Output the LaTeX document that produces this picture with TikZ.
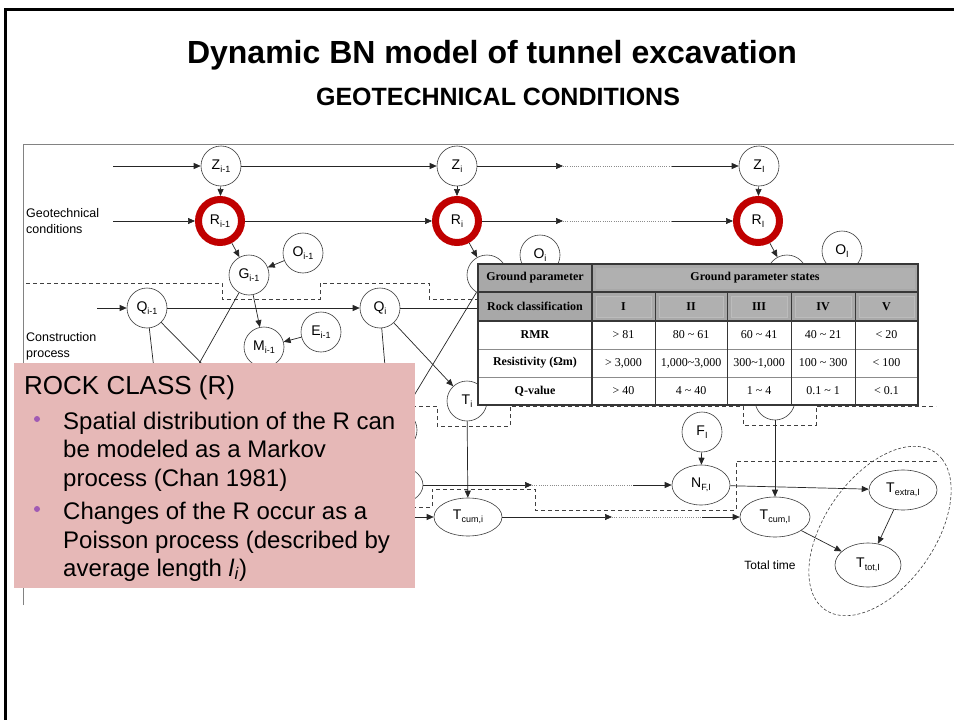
\documentclass[tikz,border=0pt]{standalone}
\usepackage{fontspec}
\setmainfont{Liberation Sans}
\newfontfamily\tmsf{Liberation Serif}
\usetikzlibrary{arrows.meta,shapes.geometric,calc}
\definecolor{pinkbg}{RGB}{230,184,183}
\definecolor{ringred}{RGB}{192,0,0}
\definecolor{bulletpurple}{RGB}{160,90,180}
\definecolor{tabgray}{RGB}{168,168,168}
\definecolor{tabinset}{RGB}{176,176,176}
\definecolor{tabline}{RGB}{55,55,55}
\definecolor{figgray}{RGB}{130,130,130}
\definecolor{nodeline}{RGB}{60,60,60}
\newcommand{\sbs}[1]{\raisebox{-3.5pt}{\fontsize{9}{9}\selectfont #1}}
\begin{document}
\begin{tikzpicture}[x=1pt,y=-1pt,
  >={Triangle[length=7pt,width=6pt]},
  bn/.style={circle,draw=nodeline,line width=0.6pt,minimum size=40pt,inner sep=0pt,fill=white,font=\fontsize{14}{14}\selectfont},
  bne/.style={ellipse,draw=nodeline,line width=0.6pt,inner sep=0pt,fill=white,font=\fontsize{14}{14}\selectfont},
  ring/.style={circle,draw=ringred,line width=7pt,minimum size=43pt,inner sep=0pt,outer sep=3.5pt},
  conn/.style={line width=0.7pt,draw=black!85},
  dots/.style={line width=0.6pt,draw=black!45,dash pattern=on 1pt off 1.2pt},
  bound/.style={line width=0.6pt,draw=black!75,dash pattern=on 4pt off 3pt},
  ebound/.style={line width=0.6pt,draw=black!75,dash pattern=on 3pt off 2pt},
  lbl/.style={anchor=west,inner sep=0pt,align=left,font=\fontsize{12.5}{16}\selectfont},
  tabh/.style={font=\tmsf\bfseries\fontsize{12}{12}\selectfont,inner sep=0pt},
  tabd/.style={font=\tmsf\fontsize{12}{12}\selectfont,inner sep=0pt},
  pinktxt/.style={anchor=base west,inner sep=0pt,font=\fontsize{24}{24}\selectfont},
  bulletdot/.style={circle,fill=bulletpurple,minimum size=6pt,inner sep=0pt}
]
\useasboundingbox (0,0) rectangle (954,720);
\fill[white] (0,0) rectangle (954,720);

% slide frame
\draw[line width=3pt] (5.5,720) -- (5.5,9) -- (954,9);

% titles
\node[font=\fontsize{32}{32}\selectfont\bfseries] (title) at (492,55) {Dynamic BN model of tunnel excavation};
\node[font=\fontsize{25}{25}\selectfont\bfseries] (subtitle) at (498,97) {GEOTECHNICAL CONDITIONS};

% figure frame
\draw[figgray,line width=0.8pt] (23,605) -- (23,144) -- (954,144);

% side labels
\node[lbl] (lgeo) at (26,221) {Geotechnical\\conditions};
\node[lbl] (lcon) at (26,346) {Construction\\process};

% dashed region boundaries
\draw[bound] (26,283) -- (222,283) -- (222,299) -- (320,299) -- (320,283) -- (429,283) -- (429,299) -- (600,299);
\draw[bound] (300,406) -- (437,406) -- (437,426) -- (510,426) -- (510,406) -- (743,406) -- (743,425) -- (816,425) -- (816,406) -- (936,406);
\draw[bound] (300,507) -- (432,507) -- (432,489) -- (535,489) -- (535,510) -- (736,510) -- (736,461) -- (940,461);
\draw[ebound] plot[smooth cycle,domain=0:350,samples=36,variable=\t]
  ({880 + 96*cos(\t)*0.574 + 55*sin(\t)*0.819},{531 - 96*cos(\t)*0.819 + 55*sin(\t)*0.574});

% nodes
\node[bn] (zA) at (221,166) {Z\sbs{i-1}};
\node[bn] (zB) at (457,166) {Z\sbs{i}};
\node[bn] (zC) at (759,166) {Z\sbs{I}};
\node[bn] (rA) at (220,221) {R\sbs{i-1}};
\node[bn] (rB) at (457,221) {R\sbs{i}};
\node[bn] (rC) at (758,221) {R\sbs{I}};
\node[ring] (ringA) at (rA) {};
\node[ring] (ringB) at (rB) {};
\node[ring] (ringC) at (rC) {};
\node[bn] (gA) at (249,275) {G\sbs{i-1}};
\node[bn] (oA) at (303,253) {O\sbs{i-1}};
\node[bn] (qA) at (147,308) {Q\sbs{i-1}};
\node[bn] (qB) at (380,308) {Q\sbs{i}};
\node[bn] (mA) at (264,347) {M\sbs{i-1}};
\node[bn] (eA) at (321,332) {E\sbs{i-1}};
\node[bn] (gB) at (487,275) {};
\node[bn] (oB) at (540,255) {O\sbs{i}};
\node[bn] (gC) at (787,275) {};
\node[bn] (oC) at (842,251) {O\sbs{I}};
\node[bn] (tB) at (467,401) {T\sbs{i}};
\node[bn] (tC) at (775,400) {};
\node[bn] (fC) at (702,432) {F\sbs{I}};
\node[bn] (hidA) at (397,430) {};
\node[bne,minimum width=60pt,minimum height=40pt] (nB) at (393,485) {};
\node[bne,minimum width=68pt,minimum height=38pt] (tcB) at (468,517) {T\sbs{cum,i}};
\node[bne,minimum width=58pt,minimum height=40pt] (nC) at (701,485) {N\sbs{F,I}};
\node[bne,minimum width=70pt,minimum height=40pt] (tcC) at (775,517) {T\sbs{cum,I}};
\node[bne,minimum width=68pt,minimum height=40pt] (teC) at (903,490) {T\sbs{extra,I}};
\node[bne,minimum width=66pt,minimum height=44pt] (ttC) at (868,565) {T\sbs{tot,I}};
\node[font=\fontsize{12}{12}\selectfont] (ttime) at (770,565) {Total time};

% free ends
\coordinate (inZ) at (113,166);
\coordinate (inR) at (113,221);
\coordinate (inQ) at (97,308);
\coordinate (zm1) at (563,166);
\coordinate (zm2) at (672,166);
\coordinate (rm1) at (563,221);
\coordinate (rm2) at (672,221);
\coordinate (qout) at (600,308);
\coordinate (gAd) at (191,378);
\coordinate (qAd) at (216,378);
\coordinate (qAv) at (155,378);
\coordinate (qBv) at (386,378);
\coordinate (gBd) at (404,412);
\coordinate (tcin) at (400,517);
\coordinate (nm1) at (532,485);
\coordinate (nm2) at (633,485);
\coordinate (tm1) at (612,517);
\coordinate (tm2) at (702,517);

% connectors
\draw[conn,->] (inZ) -- (zA);
\draw[conn,->] (inR) -- (ringA);
\draw[conn,->] (zA) -- (zB);
\draw[conn,->] (ringA) -- (ringB);
\draw[conn,->] (zA) -- (ringA);
\draw[conn,->] (zB) -- (ringB);
\draw[conn,->] (zC) -- (ringC);
\draw[conn,->] (zB) -- (zm1);
\draw[dots] (zm1) -- (zm2);
\draw[conn,->] (zm2) -- (zC);
\draw[conn,->] (ringB) -- (rm1);
\draw[dots] (rm1) -- (rm2);
\draw[conn,->] (rm2) -- (ringC);
\draw[conn,->] (ringA) -- (gA);
\draw[conn,->] (oA) -- (gA);
\draw[conn,->] (gA) -- (mA);
\draw[conn,->] (eA) -- (mA);
\draw[conn,->] (inQ) -- (qA);
\draw[conn,->] (qA) -- (qB);
\draw[conn] (qB) -- (qout);
\draw[conn,->] (ringB) -- (gB);
\draw[conn,->] (ringC) -- (gC);
\draw[conn,->] (qB) -- (tB);
\draw[conn] (gA) -- (gAd);
\draw[conn] (qA) -- (qAd);
\draw[conn] (qA) -- (qAv);
\draw[conn] (qB) -- (qBv);
\draw[conn] (gB) -- (gBd);
\draw[conn,->] (tB) -- (tcB);
\draw[conn,->] (tC) -- (tcC);
\draw[conn,->] (fC) -- (nC);
\draw[conn,->] (tcin) -- (tcB);
\draw[conn,->] (nB) -- (nm1);
\draw[dots] (nm1) -- (nm2);
\draw[conn,->] (nm2) -- (nC);
\draw[conn,->] (tcB) -- (tm1);
\draw[dots] (tm1) -- (tm2);
\draw[conn,->] (tm2) -- (tcC);
\draw[conn,->] (nC) -- (teC);
\draw[conn,->] (tcC) -- (ttC);
\draw[conn,->] (teC) -- (ttC);

% table
\fill[white] (478,264) rectangle (918,405);
\fill[tabgray] (478,264) rectangle (918,321);
\draw[tabinset,fill=tabinset,line width=0.6pt] (596,268) rectangle (914,288);
\foreach \xa/\xb in {592/655,655/727,727/791,791/855,855/918}
  \draw[tabinset!85!white,fill=tabinset,line width=0.6pt] (\xa+4,296) rectangle (\xb-4,317);
\draw[black!45,line width=0.6pt] (478,349) -- (918,349);
\draw[black!45,line width=0.6pt] (478,377) -- (918,377);
\draw[tabline,line width=1.2pt] (478,292) -- (918,292);
\draw[tabline,line width=1.2pt] (478,321) -- (918,321);
\foreach \x in {655,727,791,855} \draw[tabline,line width=0.8pt] (\x,292) -- (\x,405);
\draw[tabline,line width=1.6pt] (592,264) -- (592,405);
\draw[tabline,line width=2pt] (478,264) rectangle (918,405);

\node[tabh] (h11) at (535,278) {Ground parameter};
\node[tabh] (h12) at (755,278) {Ground parameter states};
\node[tabh] (h21) at (535,306.5) {Rock classification};
\node[tabh] (h22) at (623.5,306.5) {I};
\node[tabh] (h23) at (691,306.5) {II};
\node[tabh] (h24) at (759,306.5) {III};
\node[tabh] (h25) at (823,306.5) {IV};
\node[tabh] (h26) at (886.5,306.5) {V};
\node[tabh] (d31) at (535,335) {RMR};
\node[tabd] (d32) at (623.5,335) {> 81};
\node[tabd] (d33) at (691,335) {80 \textasciitilde{} 61};
\node[tabd] (d34) at (759,335) {60 \textasciitilde{} 41};
\node[tabd] (d35) at (823,335) {40 \textasciitilde{} 21};
\node[tabd] (d36) at (886.5,335) {< 20};
\node[tabh] (d41) at (535,363) {Resistivity (Ωm)};
\node[tabd] (d42) at (623.5,363) {> 3,000};
\node[tabd] (d43) at (691,363) {1,000\textasciitilde{}3,000};
\node[tabd] (d44) at (759,363) {300\textasciitilde{}1,000};
\node[tabd] (d45) at (823,363) {100 \textasciitilde{} 300};
\node[tabd] (d46) at (886.5,363) {< 100};
\node[tabh] (d51) at (535,391) {Q-value};
\node[tabd] (d52) at (623.5,391) {> 40};
\node[tabd] (d53) at (691,391) {4 \textasciitilde{} 40};
\node[tabd] (d54) at (759,391) {1 \textasciitilde{} 4};
\node[tabd] (d55) at (823,391) {0.1 \textasciitilde{} 1};
\node[tabd] (d56) at (886.5,391) {< 0.1};

% pink text box
\fill[pinkbg] (14,363) rectangle (415,588);
\node[anchor=base west,inner sep=0pt,font=\fontsize{26}{26}\selectfont] (rc) at (24,394) {ROCK CLASS (R)};
\node[bulletdot] (b1) at (37,419) {};
\node[bulletdot] (b2) at (37,509) {};
\node[pinktxt] (p1) at (63,429) {Spatial distribution of the R can};
\node[pinktxt] (p2) at (63,457) {be modeled as a Markov};
\node[pinktxt] (p3) at (63,486) {process (Chan 1981)};
\node[pinktxt] (p4) at (63,519) {Changes of the R occur as a};
\node[pinktxt] (p5) at (63,548) {Poisson process (described by};
\node[pinktxt] (p6) at (63,576) {average length \textit{l}\textsubscript{\textit{i}})};
\end{tikzpicture}
\end{document}
